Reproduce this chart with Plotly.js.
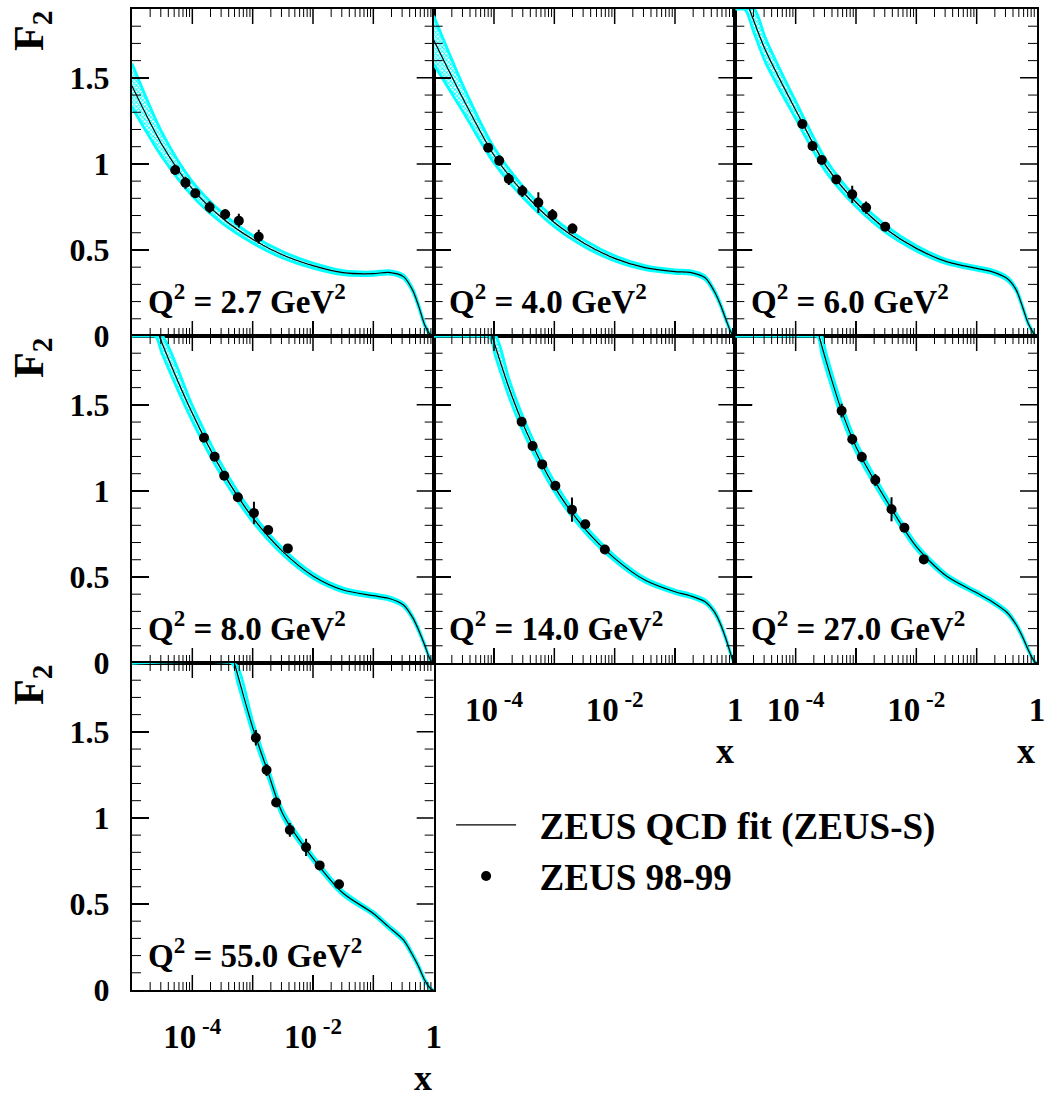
<!DOCTYPE html>
<html><head><meta charset="utf-8">
<script src="https://cdn.plot.ly/plotly-3.0.1.min.js"></script>
<style>html,body{margin:0;padding:0;background:#fff}</style>
</head><body><div id="chart" style="width:1047px;height:1098px"></div>
<script>
// ---------------- data ----------------
const q2Values = ['2.7', '4.0', '6.0', '8.0', '14.0', '27.0', '55.0'];

// ZEUS QCD fit (central curve) per Q2 bin
const fitX1 = [1e-5, 3.16e-5, 1e-4, 3.16e-4, 1e-3, 3.16e-3, 0.01, 0.0316, 0.1, 0.178, 0.316, 0.447, 0.562, 0.708, 0.832, 0.912, 1.0];
const fitF2_1 = [1.453, 1.11, 0.855, 0.684, 0.562, 0.471, 0.409, 0.368, 0.362, 0.370, 0.345, 0.267, 0.175, 0.065, 0.018, 0.004, 0.0];
const fitX2 = fitX1;
const fitF2_2 = [1.72, 1.37, 1.05, 0.829, 0.659, 0.538, 0.451, 0.397, 0.374, 0.370, 0.338, 0.260, 0.185, 0.090, 0.028, 0.006, 0];
const fitX3 = [1.71e-5, 3.16e-5, 1e-4, 3.16e-4, 1e-3, 3.16e-3, 0.01, 0.0316, 0.1, 0.178, 0.316, 0.447, 0.562, 0.708, 0.832, 0.912, 1.0];
const fitF2_3 = [1.90, 1.66, 1.313, 0.99, 0.777, 0.62, 0.509, 0.432, 0.393, 0.374, 0.335, 0.271, 0.180, 0.077, 0.029, 0.006, 0];
const fitX4 = [2.84e-5, 3.16e-5, 1e-4, 3.16e-4, 1e-3, 3.16e-3, 0.01, 0.0316, 0.1, 0.178, 0.316, 0.447, 0.562, 0.708, 0.832, 0.912, 1.0];
const fitF2_4 = [1.90, 1.857, 1.451, 1.112, 0.845, 0.647, 0.506, 0.424, 0.391, 0.376, 0.337, 0.265, 0.192, 0.105, 0.037, 0.010, 0];
const fitX5 = [9.3e-5, 1.78e-4, 3.16e-4, 1e-3, 3.16e-3, 0.01, 0.0316, 0.1, 0.178, 0.316, 0.447, 0.562, 0.708, 0.832, 0.912, 1.0];
const fitF2_5 = [1.90, 1.596, 1.373, 1.025, 0.782, 0.608, 0.482, 0.414, 0.391, 0.356, 0.298, 0.230, 0.134, 0.056, 0.015, 0];
const fitX6 = [2.45e-4, 3.16e-4, 5.62e-4, 1e-3, 3.16e-3, 0.01, 0.0316, 0.1, 0.178, 0.316, 0.447, 0.562, 0.708, 0.832, 0.912, 1.0];
const fitF2_6 = [1.90, 1.76, 1.478, 1.257, 0.947, 0.676, 0.505, 0.408, 0.358, 0.295, 0.225, 0.160, 0.080, 0.030, 0.008, 0];
const fitX7 = [4.97e-4, 5.62e-4, 1e-3, 1.78e-3, 3.16e-3, 0.01, 0.0316, 0.1, 0.178, 0.316, 0.447, 0.562, 0.708, 0.832, 0.912, 1.0];
const fitF2_7 = [1.90, 1.834, 1.526, 1.269, 1.023, 0.765, 0.562, 0.445, 0.368, 0.291, 0.203, 0.136, 0.058, 0.019, 0.005, 0];

// fit uncertainty band (visible upper / lower edges)
const bandX1 = fitX1;
const bandHi1 = [1.583, 1.18, 0.897, 0.714, 0.584, 0.489, 0.424, 0.380, 0.372, 0.380, 0.355, 0.276, 0.183, 0.071, 0.022, 0.006, 0];
const bandLo1 = [1.330, 1.04, 0.813, 0.654, 0.540, 0.453, 0.394, 0.356, 0.352, 0.360, 0.335, 0.258, 0.167, 0.059, 0.014, 0.002, 0];
const bandX2 = fitX1;
const bandHi2 = [1.86, 1.445, 1.095, 0.861, 0.683, 0.557, 0.466, 0.409, 0.384, 0.380, 0.348, 0.269, 0.193, 0.096, 0.032, 0.008, 0];
const bandLo2 = [1.58, 1.295, 1.005, 0.797, 0.635, 0.519, 0.436, 0.385, 0.364, 0.360, 0.328, 0.251, 0.177, 0.084, 0.024, 0.004, 0];
const bandX3 = [1e-5, 1.43e-5, 2.05e-5, 3.16e-5, 1e-4, 3.16e-4, 1e-3, 3.16e-3, 0.01, 0.0316, 0.1, 0.178, 0.316, 0.447, 0.562, 0.708, 0.832, 0.912, 1.0];
const bandHi3 = [1.9, 1.9, 1.9, 1.73, 1.363, 1.025, 0.802, 0.640, 0.524, 0.444, 0.403, 0.384, 0.345, 0.280, 0.188, 0.083, 0.033, 0.008, 0];
const bandLo3 = [1.9, 1.9, 1.76, 1.59, 1.263, 0.955, 0.752, 0.600, 0.494, 0.420, 0.383, 0.364, 0.325, 0.262, 0.172, 0.071, 0.025, 0.004, 0];
const bandX4 = [1e-5, 2.42e-5, 3.16e-5, 1e-4, 3.16e-4, 1e-3, 3.16e-3, 0.01, 0.0316, 0.1, 0.178, 0.316, 0.447, 0.562, 0.708, 0.832, 0.912, 1.0];
const bandHi4 = [1.9, 1.9, 1.9, 1.496, 1.144, 0.869, 0.665, 0.520, 0.435, 0.401, 0.386, 0.347, 0.274, 0.200, 0.111, 0.041, 0.012, 0];
const bandLo4 = [1.9, 1.9, 1.797, 1.406, 1.080, 0.821, 0.629, 0.492, 0.413, 0.381, 0.366, 0.327, 0.256, 0.184, 0.099, 0.033, 0.008, 0];
const bandX5 = [1e-5, 8.2e-5, 1.06e-4, 1.78e-4, 3.16e-4, 1e-3, 3.16e-3, 0.01, 0.0316, 0.1, 0.178, 0.316, 0.447, 0.562, 0.708, 0.832, 0.912, 1.0];
const bandHi5 = [1.9, 1.9, 1.9, 1.646, 1.413, 1.053, 0.802, 0.623, 0.494, 0.424, 0.401, 0.366, 0.307, 0.238, 0.140, 0.060, 0.017, 0];
const bandLo5 = [1.9, 1.9, 1.78, 1.546, 1.333, 0.997, 0.762, 0.593, 0.470, 0.404, 0.381, 0.346, 0.289, 0.222, 0.128, 0.052, 0.013, 0];
const bandX6 = [1e-5, 2.24e-4, 2.69e-4, 3.16e-4, 5.62e-4, 1e-3, 3.16e-3, 0.01, 0.0316, 0.1, 0.178, 0.316, 0.447, 0.562, 0.708, 0.832, 0.912, 1.0];
const bandHi6 = [1.9, 1.9, 1.9, 1.805, 1.516, 1.287, 0.969, 0.692, 0.517, 0.418, 0.368, 0.305, 0.234, 0.168, 0.086, 0.034, 0.010, 0];
const bandLo6 = [1.9, 1.9, 1.80, 1.715, 1.440, 1.227, 0.925, 0.660, 0.493, 0.398, 0.348, 0.285, 0.216, 0.152, 0.074, 0.026, 0.006, 0];
const bandX7 = [1e-5, 4.52e-4, 5.62e-4, 1e-3, 1.78e-3, 3.16e-3, 0.01, 0.0316, 0.1, 0.178, 0.316, 0.447, 0.562, 0.708, 0.832, 0.912, 1.0];
const bandHi7 = [1.9, 1.9, 1.879, 1.561, 1.297, 1.045, 0.781, 0.575, 0.455, 0.378, 0.301, 0.212, 0.144, 0.064, 0.023, 0.007, 0];
const bandLo7 = [1.9, 1.9, 1.789, 1.491, 1.241, 1.001, 0.749, 0.549, 0.435, 0.358, 0.281, 0.194, 0.128, 0.052, 0.015, 0.003, 0];

// ZEUS 98-99 data points
const dataX1 = [5.2e-5, 7.7e-5, 1.12e-4, 1.93e-4, 3.5e-4, 5.9e-4, 1.26e-3];
const dataF2_1 = [0.965, 0.891, 0.829, 0.748, 0.707, 0.670, 0.577];
const dataErr1 = [0.03, 0.035, 0.025, 0.035, 0.03, 0.04, 0.04];
const dataX2 = [8.0e-5, 1.22e-4, 1.76e-4, 2.95e-4, 5.43e-4, 9.3e-4, 2.0e-3];
const dataF2_2 = [1.094, 1.019, 0.912, 0.843, 0.775, 0.703, 0.624];
const dataErr2 = [0.025, 0.03, 0.035, 0.035, 0.06, 0.035, 0.03];
const dataX3 = [1.29e-4, 1.9e-4, 2.71e-4, 4.72e-4, 8.65e-4, 1.47e-3, 3.05e-3];
const dataF2_3 = [1.232, 1.104, 1.023, 0.910, 0.823, 0.746, 0.635];
const dataErr3 = [0.02, 0.02, 0.02, 0.025, 0.05, 0.035, 0.02];
const dataX4 = [1.56e-4, 2.34e-4, 3.38e-4, 5.69e-4, 1.05e-3, 1.81e-3, 3.83e-3];
const dataF2_4 = [1.309, 1.199, 1.088, 0.963, 0.872, 0.773, 0.666];
const dataErr4 = [0.02, 0.02, 0.02, 0.02, 0.065, 0.02, 0.02];
const dataX5 = [2.87e-4, 4.36e-4, 6.3e-4, 1.04e-3, 1.96e-3, 3.26e-3, 6.87e-3];
const dataF2_5 = [1.402, 1.261, 1.154, 1.030, 0.891, 0.806, 0.659];
const dataErr5 = [0.02, 0.02, 0.02, 0.025, 0.07, 0.02, 0.02];
const dataX6 = [5.78e-4, 8.67e-4, 1.25e-3, 2.09e-3, 3.88e-3, 6.34e-3, 1.33e-2];
const dataF2_6 = [1.466, 1.300, 1.197, 1.063, 0.893, 0.786, 0.602];
const dataErr6 = [0.04, 0.03, 0.03, 0.035, 0.07, 0.02, 0.02];
const dataX7 = [1.13e-3, 1.70e-3, 2.45e-3, 4.13e-3, 7.68e-3, 1.29e-2, 2.7e-2];
const dataF2_7 = [1.466, 1.278, 1.089, 0.930, 0.829, 0.724, 0.614];
const dataErr7 = [0.045, 0.035, 0.025, 0.04, 0.05, 0.02, 0.02];

const xTickVals = [1e-5, 1e-4, 1e-3, 1e-2, 1e-1, 1];
const xTickText = ['', '10<sup> -4</sup>', '', '10<sup> -2</sup>', '', '1'];
const yTickVals = [0, 0.5, 1, 1.5];
const yTickText = ['0', '0.5', '1', '1.5'];

// ---------------- build ----------------
const panels = [
  [fitX1, fitF2_1, bandX1, bandHi1, bandLo1, dataX1, dataF2_1, dataErr1],
  [fitX2, fitF2_2, bandX2, bandHi2, bandLo2, dataX2, dataF2_2, dataErr2],
  [fitX3, fitF2_3, bandX3, bandHi3, bandLo3, dataX3, dataF2_3, dataErr3],
  [fitX4, fitF2_4, bandX4, bandHi4, bandLo4, dataX4, dataF2_4, dataErr4],
  [fitX5, fitF2_5, bandX5, bandHi5, bandLo5, dataX5, dataF2_5, dataErr5],
  [fitX6, fitF2_6, bandX6, bandHi6, bandLo6, dataX6, dataF2_6, dataErr6],
  [fitX7, fitF2_7, bandX7, bandHi7, bandLo7, dataX7, dataF2_7, dataErr7]
];
const FONT = 'Liberation Serif, Times New Roman, serif';
const CYAN = '#00ffff';
const X_RANGE = [-5, 0], Y_RANGE = [0, 1.9];
const W = 1047, H = 1098, M = {l: 132, r: 10, t: 9, b: 108};

// tick positions (axis decoration): decades and 2..9 sub-ticks, 0.1 steps on y
const xMajorInner = [1e-4, 1e-3, 1e-2, 1e-1];
const xMinor = [];
for (let d = -5; d < 0; d++) for (let k = 2; k <= 9; k++) xMinor.push(k * Math.pow(10, d));
const yMajorInner = [0.5, 1, 1.5];
const yMinor = [];
for (let k = 1; k <= 18; k++) if (k % 5 !== 0) yMinor.push(k / 10);

// pixel -> axis-unit conversion for tick lengths
const panelWpx = (W - M.l - M.r) / 3, panelHpx = (H - M.t - M.b) / 3;
const yUnitPerPx = (Y_RANGE[1] - Y_RANGE[0]) / panelHpx;
const decPerPx = (X_RANGE[1] - X_RANGE[0]) / panelWpx;
const xLo = Math.pow(10, X_RANGE[0]), xHi = Math.pow(10, X_RANGE[1]);

function tickTrace(xa, ya, xs, xLenPx, ys, yLenPx, w) {
  const X = [], Y = [];
  const dy = xLenPx * yUnitPerPx;
  xs.forEach(v => { X.push(v, v, null, v, v, null); Y.push(Y_RANGE[0], Y_RANGE[0] + dy, null, Y_RANGE[1], Y_RANGE[1] - dy, null); });
  const f = Math.pow(10, yLenPx * decPerPx);
  ys.forEach(v => { X.push(xLo, xLo * f, null, xHi, xHi / f, null); Y.push(v, v, null, v, v, null); });
  return {x: X, y: Y, xaxis: xa, yaxis: ya, type: 'scatter', mode: 'lines', connectgaps: false,
    line: {color: '#000', width: w}, showlegend: false, hoverinfo: 'skip'};
}

const traces = [];
const layout = {
  width: W, height: H,
  margin: {l: M.l, r: M.r, t: M.t, b: M.b, pad: 0},
  paper_bgcolor: '#fff', plot_bgcolor: '#fff',
  showlegend: true,
  legend: {x: 0.3526, y: 0.1995, xanchor: 'left', yanchor: 'top',
    font: {family: FONT, size: 37, weight: 'bold', color: '#000'},
    bgcolor: 'rgba(0,0,0,0)', tracegroupgap: 0, itemwidth: 60},
  annotations: []
};
const cols = [[0, 1/3], [1/3, 2/3], [2/3, 1]];
const rows = [[2/3, 1], [1/3, 2/3], [0, 1/3]];

panels.forEach((p, i) => {
  const n = i + 1;
  const sfx = n === 1 ? '' : String(n);
  const xa = 'x' + sfx, ya = 'y' + sfx;
  const col = i % 3, row = Math.floor(i / 3);
  const [fx, fy, bx, bh, bl, dx, dy, de] = p;
  traces.push({x: bx, y: bl, xaxis: xa, yaxis: ya, type: 'scatter', mode: 'lines',
    line: {color: CYAN, width: 2.8, shape: 'spline', smoothing: 0.8}, showlegend: false, hoverinfo: 'skip'});
  traces.push({x: bx, y: bh, xaxis: xa, yaxis: ya, type: 'scatter', mode: 'lines', fill: 'tonexty',
    fillcolor: 'rgba(255,255,255,0)',
    fillpattern: {shape: 'x', fgcolor: CYAN, bgcolor: '#ffffff', size: 3, solidity: 0.5},
    line: {color: CYAN, width: 2.8, shape: 'spline', smoothing: 0.8}, showlegend: false, hoverinfo: 'skip'});
  traces.push({x: fx, y: fy, xaxis: xa, yaxis: ya, type: 'scatter', mode: 'lines',
    line: {color: '#000', width: 1.2, shape: 'spline', smoothing: 0.8},
    name: '\u00a0\u00a0ZEUS QCD fit (ZEUS-S)', legendgroup: 'fit', showlegend: i === 0});
  // axis ticks on all four sides (major and minor)
  traces.push(tickTrace(xa, ya, xMajorInner, 15, yMajorInner, 17, 1.5));
  traces.push(tickTrace(xa, ya, xMinor, 8, yMinor, 9, 1));
  traces.push({x: dx, y: dy, xaxis: xa, yaxis: ya, type: 'scatter', mode: 'markers',
    marker: {color: '#000', size: 10, symbol: 'circle'},
    error_y: {type: 'data', array: de, visible: true, color: '#000', thickness: 2, width: 0},
    name: '\u00a0\u00a0ZEUS 98-99', legendgroup: 'data', showlegend: i === 0});

  const showX = (i >= 4);
  const showY = (col === 0);
  layout['xaxis' + sfx] = {
    domain: cols[col], anchor: ya, type: 'log', range: X_RANGE,
    tickmode: 'array', tickvals: xTickVals, ticktext: xTickText,
    showticklabels: showX, ticks: 'inside', ticklen: 15, tickwidth: 1.5, tickcolor: '#000',
    showline: true, linecolor: '#000', linewidth: 2, mirror: true, showgrid: false, zeroline: false,
    ticklabelstandoff: 16,
    tickfont: {family: FONT, size: 33, weight: 'bold', color: '#000'}
  };
  layout['yaxis' + sfx] = {
    domain: rows[row], anchor: xa, range: Y_RANGE,
    tickmode: 'array', tickvals: yTickVals, ticktext: yTickText,
    showticklabels: showY, ticks: 'inside', ticklen: 17, tickwidth: 1.5, tickcolor: '#000',
    showline: true, linecolor: '#000', linewidth: 2, mirror: true, showgrid: false, zeroline: false,
    ticklabelstandoff: 14,
    tickfont: {family: FONT, size: 32, weight: 'bold', color: '#000'}
  };

  layout.annotations.push({
    text: 'Q<sup>2</sup> = ' + q2Values[i] + ' GeV<sup>2</sup>',
    xref: xa + ' domain', yref: ya + ' domain', x: 0.045, y: 0.042,
    xanchor: 'left', yanchor: 'bottom', showarrow: false,
    font: {family: FONT, size: 33, weight: 'bold', color: '#000'}
  });
  if (showX) {
    layout.annotations.push({
      text: 'x', xref: xa + ' domain', yref: ya + ' domain', x: 0.965, y: -0.27,
      xanchor: 'center', yanchor: 'middle', showarrow: false,
      font: {family: FONT, size: 36, weight: 'bold', color: '#000'}
    });
  }
  if (showY) {
    layout.annotations.push({
      text: 'F<sub>2</sub>', textangle: -90, xref: 'paper', yref: ya + ' domain',
      x: -0.1105, y: 1.0, xanchor: 'center', yanchor: 'top', showarrow: false,
      font: {family: FONT, size: 42, weight: 'bold', color: '#000'}
    });
  }
});

Plotly.newPlot('chart', traces, layout, {staticPlot: true, displayModeBar: false});
</script>
</body></html>
